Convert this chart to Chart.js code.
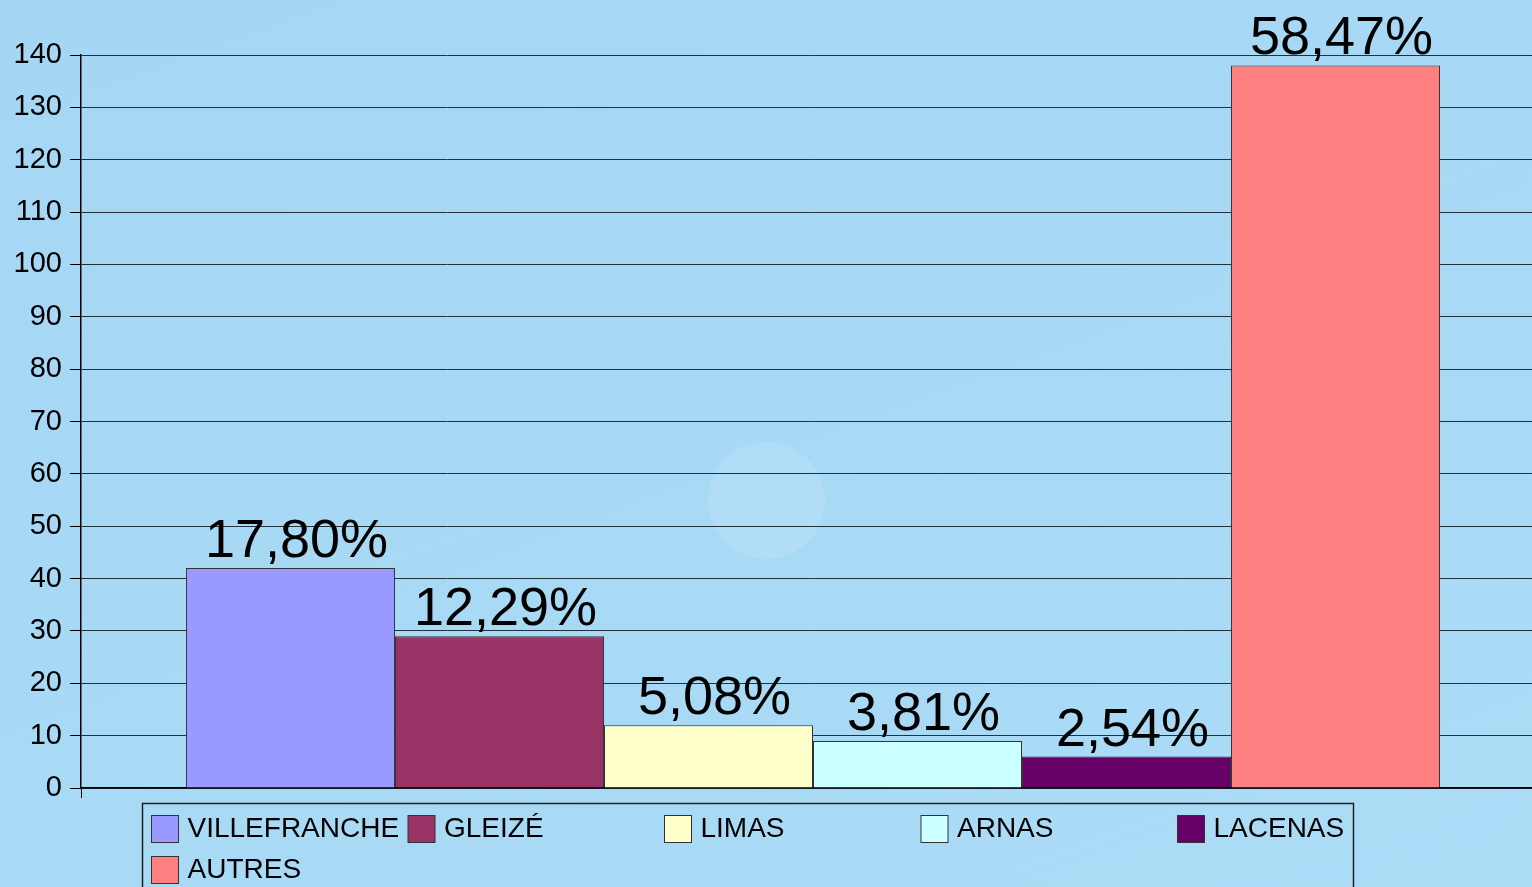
<!DOCTYPE html>
<html>
<head>
<meta charset="utf-8">
<script src="https://cdn.jsdelivr.net/npm/chart.js@4/dist/chart.umd.min.js"></script>
<style>
  html, body { margin: 0; padding: 0; overflow: hidden; }
  body {
    width: 1532px; height: 887px;
    background: linear-gradient(160deg, #a5d6f4 0%, #a8d9f5 60%, #acdcf6 100%);
    position: relative;
  }
  #glow {
    position: absolute; left: 708px; top: 442px; width: 117px; height: 117px;
    border-radius: 50%; background: rgba(255,255,255,0.12);
  }
  #wrap { position: absolute; left: 0; top: 0; width: 1532px; height: 887px; overflow: hidden; }
</style>
</head>
<body>
<div id="glow"></div>
<div id="wrap"><canvas id="chart" width="1550" height="887" style="width:1550px;height:887px"></canvas></div>
<script>
const communes = ["VILLEFRANCHE", "GLEIZÉ", "LIMAS", "ARNAS", "LACENAS", "AUTRES"];
const counts = [42, 29, 12, 9, 6, 138];
const percentLabels = ["17,80%", "12,29%", "5,08%", "3,81%", "2,54%", "58,47%"];
const barColors = ["#9999ff", "#993366", "#ffffcc", "#ccffff", "#660066", "#ff8080"];
const yTicks = [0, 10, 20, 30, 40, 50, 60, 70, 80, 90, 100, 110, 120, 130, 140];

const chartCanvas = document.querySelector("#chart");

/* percent labels above the bars */
const percentLabelPlugin = {
    id: "percentLabels",
    afterDatasetsDraw(chart) {
        const ctx = chart.ctx;
        ctx.save();
        ctx.fillStyle = "#000";
        ctx.font = "54px 'Liberation Sans', Arial, sans-serif";
        ctx.textAlign = "center";
        ctx.textBaseline = "alphabetic";
        chart.data.datasets.forEach((ds, i) => {
            const bar = chart.getDatasetMeta(i).data[0];
            ctx.fillText(percentLabels[i], bar.x + 6, bar.y - 11);
        });
        ctx.restore();
    }
};

/* legend box under the chart, fixed columns */
const boxLegendPlugin = {
    id: "boxLegend",
    afterDraw(chart) {
        const ctx = chart.ctx;
        ctx.save();
        ctx.strokeStyle = "#222";
        ctx.lineWidth = 1.5;
        ctx.strokeRect(142.5, 803.5, 1211, 120);
        ctx.font = "28px 'Liberation Sans', Arial, sans-serif";
        ctx.textBaseline = "middle";
        chart.data.datasets.forEach((ds, i) => {
            const col = i % 5;
            const row = Math.floor(i / 5);
            const x = 151.5 + col * 256.5;
            const y = 815.5 + row * 41;
            ctx.fillStyle = ds.backgroundColor;
            ctx.fillRect(x, y, 27, 27);
            ctx.strokeStyle = "#333";
            ctx.lineWidth = 1;
            ctx.strokeRect(x, y, 27, 27);
            ctx.fillStyle = "#000";
            ctx.fillText(ds.label, x + 36, y + 14);
        });
        ctx.restore();
    }
};

new Chart(chartCanvas, {
    type: "bar",
    data: {
        labels: [""],
        datasets: communes.map((name, i) => ({
            label: name,
            data: [counts[i]],
            backgroundColor: barColors[i],
            borderColor: "#333333",
            borderWidth: 1
        }))
    },
    options: {
        responsive: false,
        animation: false,
        layout: { padding: { left: 0, right: 5, top: 55, bottom: 0 } },
        datasets: {
            bar: { barPercentage: 1, categoryPercentage: 0.8566 }
        },
        plugins: {
            legend: { display: false },
            tooltip: { enabled: false }
        },
        scales: {
            x: {
                offset: true,
                ticks: { display: false },
                grid: {
                    offset: true,
                    drawOnChartArea: false,
                    drawTicks: true,
                    tickLength: 10,
                    color: "#000"
                },
                border: { color: "#000", width: 1.5 },
                afterFit(scale) { scale.height = 99; }
            },
            y: {
                min: 0,
                max: 140,
                afterBuildTicks(scale) { scale.ticks = yTicks.map(v => ({ value: v })); },
                ticks: {
                    color: "#000",
                    padding: 8,
                    font: { family: "'Liberation Sans', Arial, sans-serif", size: 29 }
                },
                grid: {
                    color: "#22323c",
                    lineWidth: 1,
                    tickLength: 11,
                    tickColor: "#000"
                },
                border: { color: "#000", width: 1.5 },
                afterFit(scale) { scale.width = 81; }
            }
        }
    },
    plugins: [percentLabelPlugin, boxLegendPlugin]
});
</script>
</body>
</html>
